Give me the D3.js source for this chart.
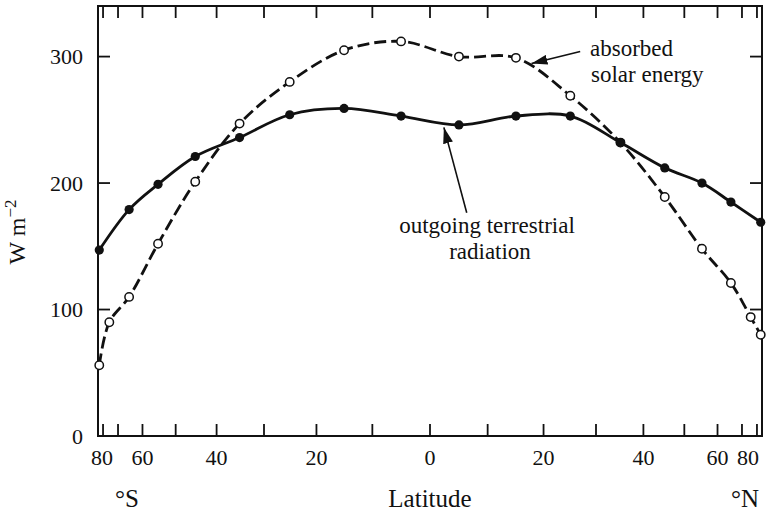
<!DOCTYPE html>
<html>
<head>
<meta charset="utf-8">
<script src="https://cdn.jsdelivr.net/npm/d3@7"></script>
<style>
  html, body { margin: 0; padding: 0; background: #fff; }
  svg { display: block; }
  text { font-family: "Liberation Serif", "DejaVu Serif", serif; fill: #111; }
</style>
</head>
<body>
<svg id="chart" width="771" height="516"></svg>
<script>
// Zonal-mean radiation budget by latitude (W m^-2), bands centred every 10 degrees
const solarLat = [-85, -75, -65, -55, -45, -35, -25, -15, -5, 5, 15, 25, 35, 45, 55, 65, 75, 85];
const absorbedSolar = [56, 90, 110, 152, 201, 247, 280, 305, 312, 300, 299, 269, 232, 189, 148, 121, 94, 80];

const olrLat = [-85, -65, -55, -45, -35, -25, -15, -5, 5, 15, 25, 35, 45, 55, 65, 85];
const outgoingLW = [147, 179, 199, 221, 236, 254, 259, 253, 246, 253, 253, 232, 212, 200, 185, 169];

const xTickLats = [-80, -70, -60, -50, -40, -30, -20, -10, 0, 10, 20, 30, 40, 50, 60, 70, 80];
const xLabelLats = [-80, -60, -40, -20, 0, 20, 40, 60, 80];
const yTicks = [0, 100, 200, 300];

const svg = d3.select("#chart");
const frame = { left: 98, right: 762, top: 6, bottom: 436 };

// Area-weighted latitude axis: position proportional to sin(latitude)
const rad = Math.PI / 180;
const sinScale = d3.scaleLinear().domain([-1, 1]).range([frame.left, frame.right]);
const x = lat => sinScale(Math.sin(lat * rad));
const y = d3.scaleLinear().domain([0, 340]).range([frame.bottom, frame.top]);

const ink = "#111";
const tickLen = 12;

// Frame
svg.append("rect")
  .attr("x", frame.left).attr("y", frame.top)
  .attr("width", frame.right - frame.left).attr("height", frame.bottom - frame.top)
  .attr("fill", "none").attr("stroke", ink).attr("stroke-width", 2);

// Inward ticks along bottom and top
const tickG = svg.append("g").attr("stroke", ink).attr("stroke-width", 1.8);
xTickLats.forEach(lat => {
  tickG.append("line").attr("x1", x(lat)).attr("x2", x(lat))
    .attr("y1", frame.bottom).attr("y2", frame.bottom - tickLen);
  tickG.append("line").attr("x1", x(lat)).attr("x2", x(lat))
    .attr("y1", frame.top).attr("y2", frame.top + tickLen);
});
// Inward ticks along left and right
yTicks.filter(v => v > 0).forEach(v => {
  tickG.append("line").attr("x1", frame.left).attr("x2", frame.left + tickLen)
    .attr("y1", y(v)).attr("y2", y(v));
  tickG.append("line").attr("x1", frame.right).attr("x2", frame.right - tickLen)
    .attr("y1", y(v)).attr("y2", y(v));
});

// Y tick labels
svg.append("g").selectAll("text").data(yTicks).join("text")
  .attr("x", frame.left - 15).attr("y", d => y(d)).attr("dy", "0.35em")
  .attr("text-anchor", "end").attr("font-size", 22)
  .text(d => d);

// X tick labels (absolute degrees); outermost labels nudged inside the frame
svg.append("g").selectAll("text").data(xLabelLats).join("text")
  .attr("x", d => x(d) + (d === 80 ? -9 : d === -80 ? -1 : 0))
  .attr("y", 465)
  .attr("text-anchor", "middle").attr("font-size", 22)
  .text(d => Math.abs(d));

// Axis titles
svg.append("text").attr("x", 127).attr("y", 507)
  .attr("text-anchor", "middle").attr("font-size", 25).text("°S");
svg.append("text").attr("x", 745).attr("y", 507)
  .attr("text-anchor", "middle").attr("font-size", 25).text("°N");
svg.append("text").attr("x", x(0)).attr("y", 507)
  .attr("text-anchor", "middle").attr("font-size", 25).text("Latitude");

const yTitle = svg.append("text")
  .attr("transform", "translate(25,232) rotate(-90)")
  .attr("text-anchor", "middle").attr("font-size", 24);
yTitle.append("tspan").text("W m");
yTitle.append("tspan").attr("dy", -9).attr("font-size", 17).text("−2");

// Curves
const line = d3.line()
  .x(d => x(d[0])).y(d => y(d[1]))
  .curve(d3.curveCatmullRom.alpha(0.5));

const solarPts = solarLat.map((l, i) => [l, absorbedSolar[i]]);
const olrPts = olrLat.map((l, i) => [l, outgoingLW[i]]);

svg.append("path").datum(solarPts)
  .attr("d", line).attr("fill", "none")
  .attr("stroke", ink).attr("stroke-width", 2.8)
  .attr("stroke-dasharray", "12,5");

svg.append("path").datum(olrPts)
  .attr("d", line).attr("fill", "none")
  .attr("stroke", ink).attr("stroke-width", 2.8);

// Markers: open circles for absorbed solar, filled dots for outgoing
svg.append("g").selectAll("circle").data(solarPts).join("circle")
  .attr("cx", d => x(d[0])).attr("cy", d => y(d[1])).attr("r", 4.2)
  .attr("fill", "#fff").attr("stroke", ink).attr("stroke-width", 1.5);

svg.append("g").selectAll("circle").data(olrPts).join("circle")
  .attr("cx", d => x(d[0])).attr("cy", d => y(d[1])).attr("r", 4.6)
  .attr("fill", ink);

// Annotations with arrows (positions in data space: [latitude, W m^-2])
const defs = svg.append("defs");
defs.append("marker")
  .attr("id", "arrowHead").attr("viewBox", "0 0 16 10")
  .attr("refX", 16).attr("refY", 5)
  .attr("markerWidth", 16).attr("markerHeight", 10)
  .attr("markerUnits", "userSpaceOnUse").attr("orient", "auto")
  .append("path").attr("d", "M0,0 L16,5 L0,10 Z").attr("fill", ink);

function arrow(from, to) {
  svg.append("line")
    .attr("x1", x(from[0])).attr("y1", y(from[1]))
    .attr("x2", x(to[0])).attr("y2", y(to[1]))
    .attr("stroke", ink).attr("stroke-width", 1.6)
    .attr("marker-end", "url(#arrowHead)");
}

arrow([26.9, 304], [17.8, 294.5]);
arrow([6.35, 176.5], [2.4, 244]);

svg.append("text").attr("x", 590).attr("y", 56)
  .attr("font-size", 23).text("absorbed");
svg.append("text").attr("x", 591).attr("y", 82)
  .attr("font-size", 23).text("solar energy");

svg.append("text").attr("x", 487).attr("y", 233)
  .attr("text-anchor", "middle").attr("font-size", 23).text("outgoing terrestrial");
svg.append("text").attr("x", 490).attr("y", 259)
  .attr("text-anchor", "middle").attr("font-size", 23).text("radiation");
</script>
</body>
</html>
